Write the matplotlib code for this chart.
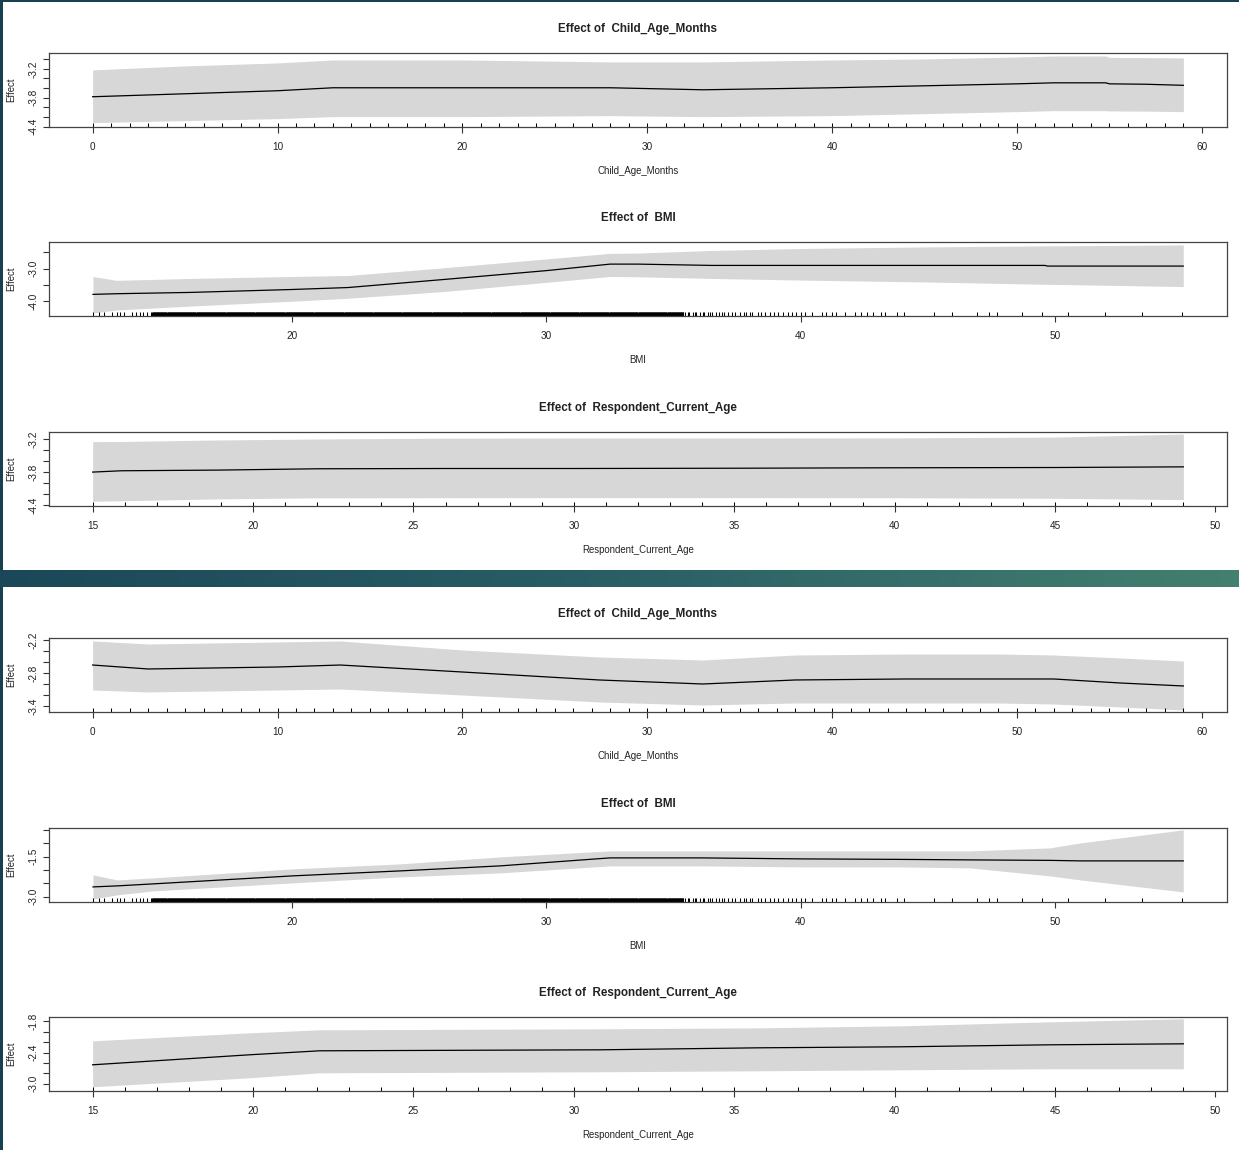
import numpy as np
import matplotlib
matplotlib.use("Agg")
import matplotlib.pyplot as plt
from matplotlib.patches import Rectangle
from matplotlib.colors import LinearSegmentedColormap
from matplotlib.transforms import blended_transform_factory

plt.rcParams['font.family'] = ['Liberation Sans', 'DejaVu Sans']

FIG_W, FIG_H = 1239, 1150
BAND = '#d7d7d7'
TEXT = '#222222'

# ---------------- data, top model ----------------
age_top_x = [0, 5, 10, 13, 20, 28, 33, 40, 45, 50, 52, 54.8, 55, 57, 59]
age_top_fit = [-3.780, -3.718, -3.655, -3.593, -3.593, -3.593, -3.635, -3.593, -3.552, -3.511,
               -3.490, -3.490, -3.511, -3.520, -3.542]
age_top_up = [-3.221, -3.138, -3.076, -3.014, -3.014, -3.055, -3.055, -3.014, -2.993, -2.952,
              -2.931, -2.931, -2.960, -2.965, -2.972]
age_top_lo = [-4.318, -4.277, -4.235, -4.194, -4.194, -4.173, -4.194, -4.173, -4.132, -4.090,
              -4.070, -4.070, -4.075, -4.080, -4.090]

bmi_top_x = [12.17, 13.1, 16, 20, 22.2, 26, 30, 32.5, 33.6, 36.5, 40, 45, 49.6, 49.7, 55.04]
bmi_top_fit = [-3.79, -3.77, -3.73, -3.64, -3.58, -3.33, -3.06, -2.86, -2.86, -2.90, -2.90,
               -2.90, -2.90, -2.92, -2.92]
bmi_top_up = [-3.24, -3.36, -3.30, -3.24, -3.21, -2.97, -2.70, -2.53, -2.52, -2.44, -2.38,
              -2.33, -2.30, -2.30, -2.27]
bmi_top_lo = [-4.36, -4.27, -4.15, -4.00, -3.91, -3.70, -3.42, -3.24, -3.25, -3.30, -3.35,
              -3.41, -3.48, -3.48, -3.55]

resp_top_x = [15, 15.9, 18.9, 22, 26, 30, 35, 40, 45, 49]
resp_top_fit = [-3.795, -3.771, -3.759, -3.735, -3.730, -3.730, -3.725, -3.717, -3.712, -3.700]
resp_top_up = [-3.243, -3.240, -3.213, -3.195, -3.180, -3.177, -3.177, -3.175, -3.160, -3.105]
resp_top_lo = [-4.324, -4.315, -4.281, -4.262, -4.260, -4.258, -4.258, -4.260, -4.270, -4.294]

# ---------------- data, bottom model ----------------
age_bot_x = [0, 3, 10, 13.4, 20, 27.4, 33, 38, 44, 49, 52, 55.6, 59]
age_bot_fit = [-2.655, -2.727, -2.691, -2.655, -2.782, -2.927, -3.000, -2.927, -2.909, -2.909,
               -2.909, -2.982, -3.036]
age_bot_up = [-2.218, -2.273, -2.236, -2.218, -2.382, -2.509, -2.564, -2.473, -2.455, -2.455,
              -2.473, -2.527, -2.582]
age_bot_lo = [-3.109, -3.145, -3.109, -3.091, -3.200, -3.327, -3.382, -3.345, -3.345, -3.345,
              -3.364, -3.418, -3.473]

bmi_bot_x = [12.17, 13.12, 14.53, 20, 24.25, 28.18, 32.5, 36.04, 39.98, 43.9, 46.66, 49.8, 51.0, 55.04]
bmi_bot_fit = [-2.635, -2.597, -2.522, -2.223, -2.036, -1.848, -1.549, -1.549, -1.586, -1.605,
               -1.624, -1.642, -1.661, -1.661]
bmi_bot_up = [-2.185, -2.373, -2.298, -1.961, -1.773, -1.511, -1.287, -1.287, -1.287, -1.287,
              -1.287, -1.174, -0.987, -0.500]
bmi_bot_lo = [-3.084, -2.934, -2.785, -2.485, -2.260, -2.110, -1.848, -1.848, -1.886, -1.886,
              -1.923, -2.223, -2.373, -2.822]

resp_bot_x = [15, 19.9, 22.08, 30.81, 35.8, 40.17, 44.85, 49]
resp_bot_fit = [-2.638, -2.444, -2.367, -2.348, -2.309, -2.290, -2.251, -2.232]
resp_bot_up = [-2.174, -2.019, -1.961, -1.942, -1.923, -1.884, -1.806, -1.748]
resp_bot_lo = [-3.063, -2.889, -2.793, -2.773, -2.754, -2.735, -2.715, -2.715]

# ---------------- rugs (observed values) ----------------
child_age_rug = list(range(0, 60))
resp_age_rug = list(range(15, 50))
bmi_rug_low = [12.17, 12.4, 12.6, 12.9, 13.1, 13.25, 13.4, 13.7, 13.85, 14.0, 14.15, 14.3, 14.45]
bmi_rug_dense = (14.5, 35.4)
bmi_rug_mid = [35.45, 35.55, 35.62, 35.75, 35.85, 35.9, 36.05, 36.15, 36.2, 36.35, 36.45, 36.5,
               36.65, 36.8, 36.9, 37.0, 37.15, 37.3, 37.4, 37.6, 37.75, 37.85, 38.0, 38.1, 38.3,
               38.45, 38.6, 38.8, 38.95, 39.1, 39.3, 39.5, 39.65, 39.8, 40.0, 40.15]
bmi_rug_high = [40.44, 40.84, 41.0, 41.24, 41.4, 41.72, 42.12, 42.36, 42.6, 42.84, 43.16, 43.32,
                43.8, 44.04, 45.24, 45.96, 46.92, 47.4, 47.72, 48.68, 49.48, 50.52, 51.97, 53.4, 55.0]

# ---------------- axes settings ----------------
age_xticks = [0, 10, 20, 30, 40, 50, 60]
bmi_xticks = [20, 30, 40, 50]
resp_xticks = [15, 20, 25, 30, 35, 40, 45, 50]

age_top_yticks = [-4.4, -4.2, -4.0, -3.8, -3.6, -3.4, -3.2, -3.0]
age_top_ylabels = ['-4.4', '', '', '-3.8', '', '', '-3.2', '']
bmi_top_yticks = [-4.0, -3.5, -3.0, -2.5]
bmi_top_ylabels = ['-4.0', '', '-3.0', '']
resp_top_yticks = [-4.4, -4.2, -4.0, -3.8, -3.6, -3.4, -3.2]
resp_top_ylabels = ['-4.4', '', '', '-3.8', '', '', '-3.2']

age_bot_yticks = [-3.4, -3.2, -3.0, -2.8, -2.6, -2.4, -2.2]
age_bot_ylabels = ['-3.4', '', '', '-2.8', '', '', '-2.2']
bmi_bot_yticks = [-3.0, -2.5, -2.0, -1.5, -1.0, -0.5]
bmi_bot_ylabels = ['-3.0', '', '', '-1.5', '', '']
resp_bot_yticks = [-3.0, -2.8, -2.6, -2.4, -2.2, -2.0, -1.8]
resp_bot_ylabels = ['-3.0', '', '', '-2.4', '', '', '-1.8']


def draw_effect(fig, top_px, x, fit, lo, up, rug, xlim, ylim, xticks, yticks, ylabels, var_name):
    left_px, right_px, h_px = 49, 1227, 74
    ax = fig.add_axes([left_px / FIG_W, 1 - (top_px + h_px) / FIG_H,
                       (right_px - left_px) / FIG_W, h_px / FIG_H])
    ax.fill_between(x, lo, up, color=BAND, lw=0)
    ax.plot(x, fit, color='black', lw=0.9)
    trans = blended_transform_factory(ax.transData, ax.transAxes)
    ax.vlines(rug, 0, 4.0 / h_px, transform=trans, color='black', lw=0.75)
    ax.set_xlim(xlim)
    ax.set_ylim(ylim)
    ax.set_xticks(xticks)
    ax.set_xticklabels([str(t) for t in xticks])
    ax.set_yticks(yticks)
    ax.set_yticklabels(ylabels)
    ax.tick_params(axis='both', direction='out', length=4.3, width=0.8,
                   color='#333333', labelcolor=TEXT, labelsize=7.2)
    ax.tick_params(axis='x', pad=6.8)
    ax.tick_params(axis='y', pad=3.2, labelrotation=90)
    for lbl in ax.get_yticklabels():
        lbl.set_va('center')
    for sp in ax.spines.values():
        sp.set_color('#444444')
        sp.set_linewidth(0.9)
    cx = (left_px + right_px) / 2 / FIG_W
    fig.text(cx, 1 - (top_px - 24) / FIG_H, f"Effect of  {var_name}", ha='center', va='center',
             fontsize=8.4, fontweight='bold', color=TEXT)
    fig.text(cx, 1 - (top_px + h_px + 44) / FIG_H, var_name, ha='center', va='center',
             fontsize=6.9, color=TEXT)
    fig.text(11.5 / FIG_W, 1 - (top_px + h_px / 2) / FIG_H, 'Effect', rotation=90,
             ha='center', va='center', fontsize=6.9, color=TEXT)
    return ax


def main() -> None:
    fig = plt.figure(figsize=(FIG_W / 100, FIG_H / 100), dpi=100, facecolor='#174151')

    # white slide panels, kept behind the axes
    fig.add_artist(Rectangle((3 / FIG_W, 1 - 570 / FIG_H), 1, (570 - 2) / FIG_H,
                             transform=fig.transFigure, facecolor='white', edgecolor='none',
                             zorder=-10))
    fig.add_artist(Rectangle((3 / FIG_W, 0), 1, (FIG_H - 587) / FIG_H,
                             transform=fig.transFigure, facecolor='white', edgecolor='none',
                             zorder=-10))

    # gradient separator band
    band_ax = fig.add_axes([0, 1 - 587 / FIG_H, 1, 17 / FIG_H])
    cmap = LinearSegmentedColormap.from_list('slide', ['#1b4858', '#2a5f66', '#43806f'])
    band_ax.imshow(np.linspace(0, 1, 256).reshape(1, -1), aspect='auto', cmap=cmap)
    band_ax.axis('off')

    bmi_rug = (bmi_rug_low + list(np.arange(bmi_rug_dense[0], bmi_rug_dense[1], 0.02))
               + bmi_rug_mid + bmi_rug_high)

    draw_effect(fig, 53, age_top_x, age_top_fit, age_top_lo, age_top_up, child_age_rug,
                (-2.36, 61.36), (-4.41, -2.869), age_xticks, age_top_yticks, age_top_ylabels,
                'Child_Age_Months')
    draw_effect(fig, 242, bmi_top_x, bmi_top_fit, bmi_top_lo, bmi_top_up, bmi_rug,
                (10.44, 56.76), (-4.455, -2.18), bmi_xticks, bmi_top_yticks, bmi_top_ylabels,
                'BMI')
    draw_effect(fig, 432, resp_top_x, resp_top_fit, resp_top_lo, resp_top_up, resp_age_rug,
                (13.64, 50.36), (-4.41, -3.068), resp_xticks, resp_top_yticks, resp_top_ylabels,
                'Respondent_Current_Age')

    draw_effect(fig, 638, age_bot_x, age_bot_fit, age_bot_lo, age_bot_up, child_age_rug,
                (-2.36, 61.36), (-3.509, -2.164), age_xticks, age_bot_yticks, age_bot_ylabels,
                'Child_Age_Months')
    draw_effect(fig, 828, bmi_bot_x, bmi_bot_fit, bmi_bot_lo, bmi_bot_up, bmi_rug,
                (10.44, 56.76), (-3.2, -0.43), bmi_xticks, bmi_bot_yticks, bmi_bot_ylabels,
                'BMI')
    draw_effect(fig, 1017, resp_bot_x, resp_bot_fit, resp_bot_lo, resp_bot_up, resp_age_rug,
                (13.64, 50.36), (-3.145, -1.713), resp_xticks, resp_bot_yticks, resp_bot_ylabels,
                'Respondent_Current_Age')

    fig.savefig('out.png', dpi=100, facecolor=fig.get_facecolor())
    plt.close(fig)


if __name__ == "__main__":
    main()
